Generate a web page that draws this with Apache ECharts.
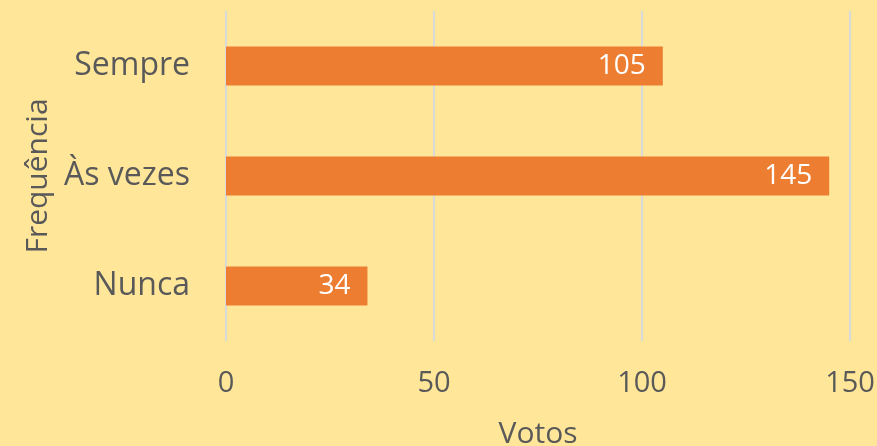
<!DOCTYPE html>
<html>
<head>
<meta charset="utf-8">
<script src="https://cdn.jsdelivr.net/npm/echarts@6/dist/echarts.min.js"></script>
<style>
  html, body { margin: 0; padding: 0; background: #FFE699; }
  #chart { width: 877px; height: 446px; }
</style>
</head>
<body>
<div id="chart"></div>
<script>
// categories from bottom to top (category axis starts at the bottom)
const categories = ['Nunca', 'Às vezes', 'Sempre'];
const votes = [34, 145, 105];
const xTicks = [0, 50, 100, 150];

const textColor = '#595959';
const font = '"Open Sans", sans-serif';

const chart = echarts.init(document.getElementById('chart'), null, { renderer: 'canvas' });

const option = {
  backgroundColor: '#FFE699',
  animation: false,
  grid: {
    left: 226,
    right: 27,
    top: 11,
    bottom: 105,
    outerBoundsMode: 'none'
  },
  xAxis: {
    type: 'value',
    min: xTicks[0],
    max: xTicks[xTicks.length - 1],
    interval: 50,
    name: 'Votos',
    nameLocation: 'middle',
    nameGap: 78,
    nameTextStyle: { color: textColor, fontSize: 30, fontFamily: font },
    axisLine: { show: false },
    axisTick: { show: false },
    axisLabel: { color: textColor, fontSize: 29, fontFamily: font, margin: 28 },
    splitLine: { lineStyle: { color: '#D9D9D9', width: 2 } }
  },
  yAxis: {
    type: 'category',
    data: categories,
    name: 'Frequência',
    nameLocation: 'middle',
    nameGap: 170,
    nameTextStyle: { color: textColor, fontSize: 30, fontFamily: font },
    axisLine: { show: false },
    axisTick: { show: false },
    axisLabel: { color: textColor, fontSize: 32, fontFamily: font, margin: 36 }
  },
  series: [{
    type: 'bar',
    data: votes,
    barWidth: 39,
    itemStyle: { color: '#ED7D31' },
    label: {
      show: true,
      position: 'insideRight',
      distance: 17,
      color: '#FFFFFF',
      fontSize: 28,
      fontFamily: font
    }
  }]
};

chart.setOption(option);
</script>
</body>
</html>
